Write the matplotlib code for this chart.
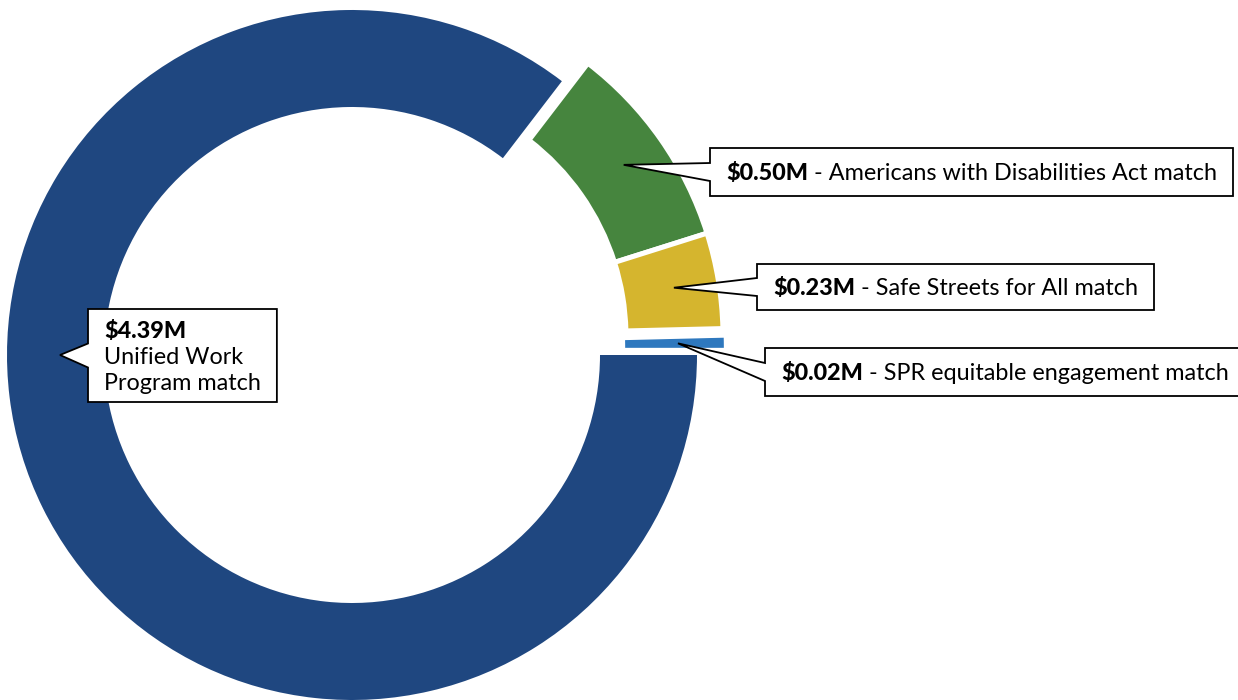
import numpy as np
import matplotlib
matplotlib.use("Agg")
import matplotlib.pyplot as plt
from matplotlib.patches import Polygon

# data
values = [4.39, 0.50, 0.23, 0.02]
amounts = ["$4.39M", "$0.50M", "$0.23M", "$0.02M"]
names = ["Unified Work\nProgram match",
         "Americans with Disabilities Act match",
         "Safe Streets for All match",
         "SPR equitable engagement match"]
colors = ["#1F4780", "#46853E", "#D5B52E", "#2E78BE"]

plt.rcParams["font.family"] = ["Lato", "DejaVu Sans"]
FS = 16.8

W, H = 1238, 700
fig = plt.figure(figsize=(W / 100, H / 100), dpi=100)
ax = fig.add_axes([0, 0, 1, 1])

CX, CY, R, RING = 352, 345, 345, 97
wedges, _ = ax.pie(values, colors=colors, startangle=0, counterclock=False,
                   radius=R, center=(CX, CY),
                   wedgeprops=dict(width=RING, linewidth=0))

# pull the small slices away from the main ring
shifts = [(0, 0), (26, 18), (26, 18), (26, 8)]
for w, (dx, dy) in zip(wedges, shifts):
    w.set_center((CX + dx, CY + dy))
for w in wedges[1:3]:
    w.set_edgecolor("white")
    w.set_linewidth(3.6)
# the tiny slice gets a same-colour outline so it stays visible
wedges[3].set_edgecolor(colors[3])
wedges[3].set_linewidth(1.2)

ax.set_xlim(0, W)
ax.set_ylim(0, H)
ax.set_aspect("equal")
ax.axis("off")

renderer = fig.canvas.get_renderer()

# box left edge, box centre y, box height, tip angle override
boxes = [(88, 344.5, 93, 180), (710, 528, 48, None),
         (757, 413, 46, None), (765, 328, 48, None)]
PADX = 16
CAP = FS * 100 / 72 * 0.72


def right_edge(t):
    return t.get_window_extent(renderer).x1


for i, (left, yc, bh, ang) in enumerate(boxes):
    x = left + PADX
    if "\n" in names[i]:
        lines = names[i].split("\n")
        step = 26
        base = yc + step - CAP / 2
        t = ax.text(x, base, amounts[i], fontsize=FS, weight="black",
                    va="baseline", parse_math=False, zorder=4)
        right = right_edge(t)
        for k, ln in enumerate(lines):
            t = ax.text(x, base - step * (k + 1), ln, fontsize=FS,
                        va="baseline", parse_math=False, zorder=4)
            right = max(right, right_edge(t))
        half = 12
    else:
        base = yc - CAP / 2
        t1 = ax.text(x, base, amounts[i], fontsize=FS, weight="black",
                     va="baseline", parse_math=False, zorder=4)
        t2 = ax.text(right_edge(t1), base, " - " + names[i], fontsize=FS,
                     va="baseline", parse_math=False, zorder=4)
        right = right_edge(t2)
        half = 9
    right += PADX

    w = wedges[i]
    if ang is None:
        ang = (w.theta1 + w.theta2) / 2
        r_tip = 300
    else:
        r_tip = 292
    cx, cy = w.center
    tip = (cx + r_tip * np.cos(np.radians(ang)),
           cy + r_tip * np.sin(np.radians(ang)))

    top, bot = yc + bh / 2, yc - bh / 2
    verts = [(left, top), (right, top), (right, bot), (left, bot),
             (left, yc - half), tip, (left, yc + half)]
    ax.add_patch(Polygon(verts, closed=True, fc="white", ec="black",
                         lw=1.3, joinstyle="miter", zorder=3))

fig.savefig("out.png", dpi=100)
